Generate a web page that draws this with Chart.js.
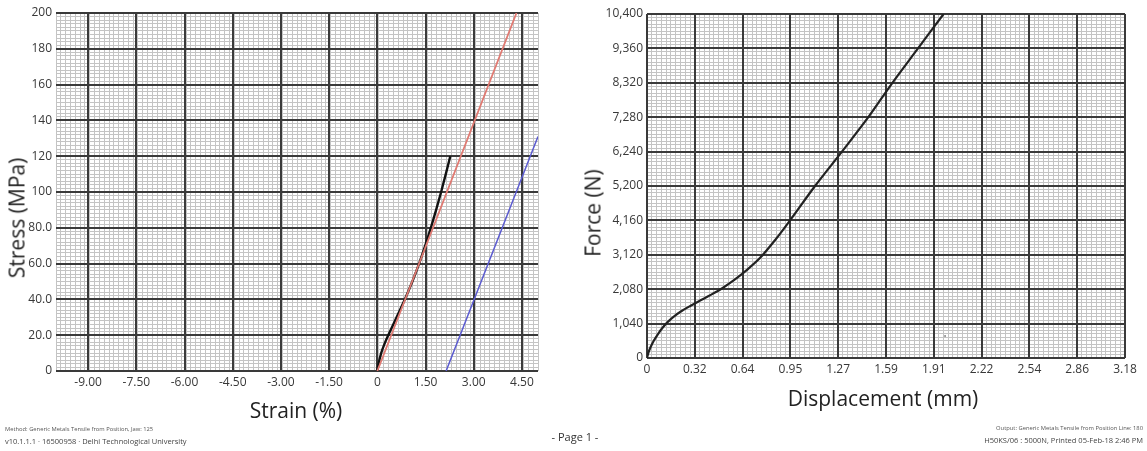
<!DOCTYPE html>
<html><head><meta charset="utf-8">
<script src="https://cdn.jsdelivr.net/npm/chart.js@4.4.1/dist/chart.umd.min.js"></script>
<style>
html,body{margin:0;padding:0;background:#fff;width:1147px;height:451px;overflow:hidden;position:relative;font-family:'Open Sans',sans-serif;}
#c1{position:absolute;left:0;top:0;}
#c2{position:absolute;left:570px;top:0;}
.t{position:absolute;white-space:nowrap;color:#222;line-height:1;}
.rot{transform:translate(-50%,-50%) rotate(-90deg);}
.ctr{transform:translate(-50%,-50%);}
</style></head><body>
<canvas id="c1" width="570" height="451"></canvas>
<canvas id="c2" width="577" height="451"></canvas>
<div class="t rot" style="left:17px;top:218px;font-size:21px;">Stress (MPa)</div>
<div class="t ctr" style="left:296px;top:410px;font-size:21px;">Strain (%)</div>
<div class="t rot" style="left:593px;top:213px;font-size:21px;">Force (N)</div>
<div class="t ctr" style="left:883px;top:398px;font-size:21px;">Displacement (mm)</div>
<div class="t" style="left:5px;top:427px;font-size:5.8px;color:#555;">Method: Generic Metals Tensile from Position, Jaw: 125</div>
<div class="t" style="left:5px;top:438px;font-size:7.5px;color:#444;">v10.1.1.1 · 16500958 · Delhi Technological University</div>
<div class="t ctr" style="left:575px;top:436px;font-size:11px;color:#333;">- Page 1 -</div>
<div class="t" style="right:4px;top:426px;font-size:5.8px;color:#555;text-align:right;">Output: Generic Metals Tensile from Position Line: 180</div>
<div class="t" style="right:4px;top:437px;font-size:7.5px;color:#444;text-align:right;">H50KS/06 : 5000N, Printed 05-Feb-18 2:46 PM</div>
<script>
// ---------- data ----------
const strainTicks = [-9, -7.5, -6, -4.5, -3, -1.5, 0, 1.5, 3, 4.5];
const stressTicks = [0, 20, 40, 60, 80, 100, 120, 140, 160, 180, 200];
const testStrain  = [0, 0.05, 0.12, 0.22, 0.34, 0.47, 0.60, 0.73, 0.855, 0.975, 1.09, 1.30, 1.49, 1.665, 1.83, 1.985, 2.13, 2.27];
const testStress  = [0, 5, 10, 15, 20, 25, 30, 35, 40, 45, 50, 60, 70, 80, 90, 100, 110, 120];
const modulusStrain = [0, 4.33];
const modulusStress = [0, 200];
const offsetStrain  = [2.14, 5.0];
const offsetStress  = [0, 131];

const dispTicks  = [0, 0.3175, 0.635, 0.9525, 1.27, 1.5875, 1.905, 2.2225, 2.54, 2.8575, 3.175];
const forceTicks = [0, 1040, 2080, 3120, 4160, 5200, 6240, 7280, 8320, 9360, 10400];
const displacement = [0, 0.01, 0.025, 0.045, 0.075, 0.106, 0.14, 0.18, 0.23, 0.29, 0.35, 0.42, 0.50, 0.58, 0.66, 0.75, 0.85, 0.95, 1.116, 1.295, 1.47, 1.63, 1.80, 1.97];
const force        = [0, 170, 340, 520, 740, 930, 1100, 1260, 1420, 1580, 1730, 1900, 2110, 2360, 2650, 3020, 3560, 4160, 5200, 6240, 7280, 8320, 9360, 10400];
const markDisp  = [1.98];
const markForce = [665];

// ---------- helpers ----------
const pts = (xs, ys) => xs.map((x, i) => ({x: x, y: ys[i]}));
function minorList(min, max, n) {
  const out = [];
  for (let i = 0; i <= n; i++) out.push({value: min + (max - min) * i / n});
  return out;
}
const FONT = {family: "'Open Sans', sans-serif", size: 12};
const MAJOR = {color: '#3a3a3a', lineWidth: 2, drawTicks: false, z: -1};
const MINOR = {color: '#c4c4c4', lineWidth: 1, drawTicks: false, z: -2};

function minorAxis(pos, min, max, n, bg) {
  const o = {
    type: 'linear', position: pos, min: min, max: max,
    grid: MINOR, border: {display: false},
    ticks: {display: false, autoSkip: false},
    afterBuildTicks: s => { s.ticks = minorList(min, max, n); },
    afterFit: s => { if (pos === 'left') s.width = 0; else s.height = 0; }
  };
  if (bg) o.backgroundColor = bg;
  return o;
}
function majorAxis(pos, min, max, ticks, fmt, size) {
  return {
    type: 'linear', position: pos, min: min, max: max,
    grid: MAJOR, border: {display: false},
    ticks: {autoSkip: false, maxRotation: 0, padding: 4, color: '#383838', font: FONT, callback: fmt},
    afterBuildTicks: s => { s.ticks = ticks.map(v => ({value: v})); },
    afterFit: s => { if (pos === 'left') s.width = size; else s.height = size; }
  };
}

Chart.defaults.animation = false;

// ---------- left chart ----------
new Chart(document.getElementById('c1'), {
  type: 'scatter',
  data: {
    datasets: [
      {data: pts(modulusStrain, modulusStress), showLine: true, borderColor: '#e07a72', borderWidth: 1.8, pointRadius: 0},
      {data: pts(offsetStrain, offsetStress), showLine: true, borderColor: '#5a5ad0', borderWidth: 1.5, pointRadius: 0},
      {data: pts(testStrain, testStress), showLine: true, borderColor: '#111', borderWidth: 2.4, pointRadius: 0, cubicInterpolationMode: 'monotone'}
    ]
  },
  options: {
    responsive: false, devicePixelRatio: 1,
    layout: {padding: {left: 0, top: 13, right: 32, bottom: 50}},
    plugins: {legend: {display: false}, tooltip: {enabled: false}},
    scales: {
      xm: minorAxis('bottom', -10, 5, 100, '#ebebeb'),
      ym: minorAxis('left', 0, 200, 100),
      x: majorAxis('bottom', -10, 5, strainTicks, v => v === 0 ? '0' : v.toFixed(2), 30),
      y: majorAxis('left', 0, 200, stressTicks, v => v === 0 ? '0' : (v < 100 ? v.toFixed(1) : String(v)), 56)
    }
  }
});

// ---------- right chart ----------
new Chart(document.getElementById('c2'), {
  type: 'scatter',
  data: {
    datasets: [
      {data: pts(displacement, force), showLine: true, borderColor: '#222', borderWidth: 2.2, pointRadius: 0, cubicInterpolationMode: 'monotone'},
      {data: pts(markDisp, markForce), showLine: false, pointRadius: 1, backgroundColor: '#888', borderWidth: 0}
    ]
  },
  options: {
    responsive: false, devicePixelRatio: 1,
    layout: {padding: {left: 0, top: 14, right: 22, bottom: 63}},
    plugins: {legend: {display: false}, tooltip: {enabled: false}},
    scales: {
      xm: minorAxis('bottom', 0, 3.175, 100, '#ebebeb'),
      ym: minorAxis('left', 0, 10400, 100),
      x: majorAxis('bottom', 0, 3.175, dispTicks, v => v === 0 ? '0' : (Math.round(v * 100 + 1e-6) / 100).toFixed(2), 30),
      y: majorAxis('left', 0, 10400, forceTicks, v => v.toLocaleString('en-US'), 77)
    }
  }
});
</script>
</body></html>
